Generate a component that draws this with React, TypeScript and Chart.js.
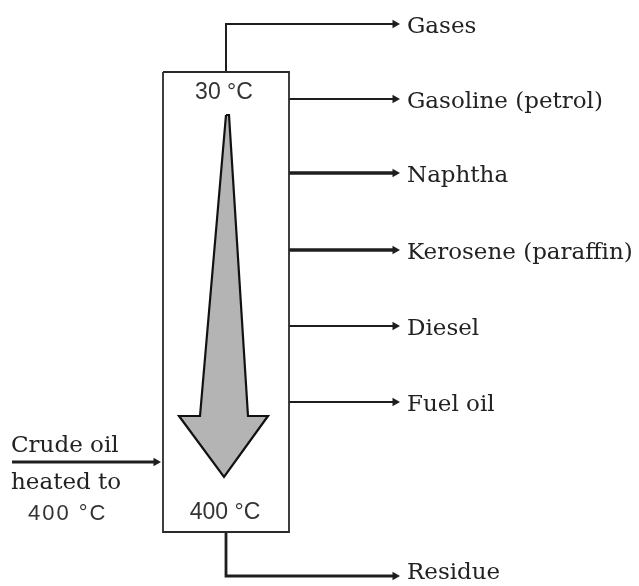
import React, { useEffect, useRef } from "react";
import { Chart, registerables } from "chart.js";

Chart.register(...registerables);

// Products leaving the column and the level (px from top) where each is drawn off
const products = ["Gases", "Gasoline (petrol)", "Naphtha", "Kerosene (paraffin)", "Diesel", "Fuel oil", "Residue"];
const productLevels = [24, 99, 173, 250, 326, 402, 576];
const productLineWidths = [2, 1.8, 3.4, 3.4, 2, 2, 2.8];

// Column temperatures
const topTemp = "30 °C";
const bottomTemp = "400 °C";
const feedLabel = ["Crude oil", "heated to", "400 °C"];

const W = 639;
const H = 586;

// geometry of the column (in scale units = px)
const colLeft = 163;
const colRight = 289;
const colTop = 72;
const colBottom = 532;
const stemX = 226;
const arrowTipX = 399;
const feedY = 462;

export default function App() {
  const ref = useRef<HTMLCanvasElement | null>(null);

  useEffect(() => {
    document.body.style.margin = "0";
    const canvas = ref.current!;
    const lineColor = "#1e1e1e";

    const datasets: any[] = [];

    // column box
    datasets.push({
      data: [
        { x: colLeft, y: colTop },
        { x: colRight, y: colTop },
        { x: colRight, y: colBottom },
        { x: colLeft, y: colBottom },
        { x: colLeft, y: colTop },
      ],
      showLine: true,
      borderColor: "#2a2a2a",
      borderWidth: 1.8,
      pointRadius: 0,
      fill: false,
    });

    // product draw-off lines
    products.forEach((p, i) => {
      const y = productLevels[i];
      let pts: { x: number; y: number }[];
      if (i === 0) {
        pts = [
          { x: stemX, y: colTop },
          { x: stemX, y },
          { x: arrowTipX - 6, y },
        ];
      } else if (i === products.length - 1) {
        pts = [
          { x: stemX, y: colBottom },
          { x: stemX, y },
          { x: arrowTipX - 6, y },
        ];
      } else {
        pts = [
          { x: colRight, y },
          { x: arrowTipX - 6, y },
        ];
      }
      datasets.push({
        label: p,
        data: pts,
        showLine: true,
        borderColor: lineColor,
        borderWidth: productLineWidths[i],
        pointRadius: 0,
        fill: false,
      });
      // arrow head
      datasets.push({
        data: [{ x: arrowTipX - 4, y }],
        showLine: false,
        pointStyle: "triangle",
        rotation: 90,
        pointRadius: 5,
        backgroundColor: lineColor,
        borderColor: lineColor,
        borderWidth: 0,
      });
    });

    // feed line
    datasets.push({
      data: [
        { x: 12, y: feedY },
        { x: 154, y: feedY },
      ],
      showLine: true,
      borderColor: lineColor,
      borderWidth: 3.2,
      pointRadius: 0,
      fill: false,
    });
    datasets.push({
      data: [{ x: 156, y: feedY }],
      showLine: false,
      pointStyle: "triangle",
      rotation: 90,
      pointRadius: 5,
      backgroundColor: lineColor,
      borderColor: lineColor,
      borderWidth: 0,
    });

    // big gray temperature arrow
    const bigArrow = [
      { x: 226, y: 115 },
      { x: 229, y: 115 },
      { x: 248, y: 416 },
      { x: 268, y: 416 },
      { x: 224, y: 477 },
      { x: 179, y: 416 },
      { x: 200, y: 416 },
      { x: 226, y: 115 },
    ];
    datasets.push({
      data: bigArrow,
      showLine: true,
      borderColor: "#111",
      borderWidth: 2.2,
      backgroundColor: "#b4b4b4",
      pointRadius: 0,
      fill: "shape",
      tension: 0,
    });

    const textPlugin = {
      id: "texts",
      afterDatasetsDraw(chart: any) {
        const { ctx } = chart;
        const xs = chart.scales.x;
        const ys = chart.scales.y;
        ctx.save();
        ctx.fillStyle = "#222";
        ctx.textBaseline = "middle";
        ctx.textAlign = "left";
        ctx.font = '23px "DejaVu Serif"';
        products.forEach((p, i) => {
          const dy = i === products.length - 1 ? -3 : 3;
          ctx.fillText(p, xs.getPixelForValue(407), ys.getPixelForValue(productLevels[i] + dy));
        });
        // feed label
        ctx.fillText(feedLabel[0], xs.getPixelForValue(11), ys.getPixelForValue(446));
        ctx.fillText(feedLabel[1], xs.getPixelForValue(11), ys.getPixelForValue(483));
        ctx.font = '22px "Liberation Sans"';
        ctx.fillStyle = "#333";
        try { (ctx as any).letterSpacing = "2px"; } catch (e) {}
        ctx.fillText(feedLabel[2], xs.getPixelForValue(28), ys.getPixelForValue(514));
        try { (ctx as any).letterSpacing = "0px"; } catch (e) {}
        ctx.textAlign = "center";
        ctx.font = '23px "Liberation Sans"';
        ctx.fillText(topTemp, xs.getPixelForValue(224), ys.getPixelForValue(93));
        ctx.fillText(bottomTemp, xs.getPixelForValue(225), ys.getPixelForValue(513));
        ctx.restore();
      },
    };

    const chart = new Chart(canvas, {
      type: "scatter",
      data: { datasets },
      options: {
        animation: false,
        responsive: false,
        maintainAspectRatio: false,
        layout: { padding: 0, autoPadding: false },
        plugins: { legend: { display: false }, tooltip: { enabled: false } },
        scales: {
          x: { type: "linear", min: 0, max: W, display: false },
          y: { type: "linear", min: 0, max: H, reverse: true, display: false },
        },
      },
      plugins: [textPlugin],
    });
    return () => chart.destroy();
  }, []);

  return (
    <div style={{ width: W, height: H, background: "#fff" }}>
      <canvas ref={ref} width={W} height={H} />
    </div>
  );
}
